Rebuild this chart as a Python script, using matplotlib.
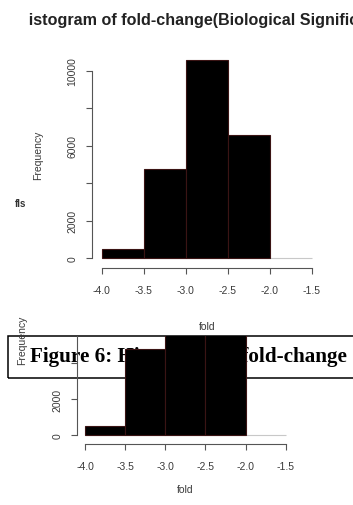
import matplotlib
matplotlib.use("Agg")
import matplotlib.pyplot as plt
from matplotlib.patches import Rectangle

# histogram of fold-change
bin_edges = [-4.0, -3.5, -3.0, -2.5, -2.0]
counts = [480, 4790, 10560, 6560]
x_ticks = [-4.0, -3.5, -3.0, -2.5, -2.0, -1.5]
x_ticklabels = ["-4.0", "-3.5", "-3.0", "-2.5", "-2.0", "-1.5"]
y_ticks = [0, 2000, 4000, 6000, 8000, 10000]
y_ticklabels = ["0", "2000", "", "6000", "", "10000"]

title = "Histogram of fold-change(Biological Significance)"
caption = "Figure 6: Histogram of fold-change (Biological Significance)"

W, H = 353, 506
fig = plt.figure(figsize=(W / 100, H / 100), dpi=100)
plt.rcParams['font.family'] = ['Liberation Sans', 'DejaVu Sans']


def fx(x):
    return x / W


def fy(y):
    return 1 - y / H


def box(l, t, r, b):
    return [fx(l), fy(b), fx(r) - fx(l), fy(t) - fy(b)]


grey = '#555555'
txt = '#3a3a3a'


def hist_axes(ax, xlim, ylim, ytop):
    widths = [bin_edges[i + 1] - bin_edges[i] for i in range(len(counts))]
    ax.hlines(0, x_ticks[0], x_ticks[-1], color='#c8c8c8', lw=0.8, zorder=1)
    ax.bar(bin_edges[:-1], counts, width=widths, align='edge',
           color='black', edgecolor='#3a1414', linewidth=0.8, zorder=2)
    for s in ['top', 'right']:
        ax.spines[s].set_visible(False)
    for s in ['left', 'bottom']:
        ax.spines[s].set_color(grey)
        ax.spines[s].set_linewidth(0.8)
    ax.set_xticks(x_ticks)
    ax.set_xticklabels(x_ticklabels)
    ax.set_yticks(y_ticks)
    ax.set_yticklabels(y_ticklabels)
    # limits after the ticks, otherwise set_yticks widens them
    ax.set_xlim(*xlim)
    ax.set_ylim(*ylim)
    ax.spines['left'].set_bounds(0, ytop)
    ax.spines['bottom'].set_bounds(x_ticks[0], x_ticks[-1])
    ax.tick_params(axis='both', colors=grey, labelcolor=txt, labelsize=7.5,
                   length=4.5, width=0.8)
    ax.tick_params(axis='x', pad=8)
    ax.tick_params(axis='y', pad=6, labelrotation=90)
    for lbl in ax.get_yticklabels():
        lbl.set_va('center')


# upper histogram
ax1 = fig.add_axes(box(92, 55, 320, 269))
hist_axes(ax1, (-4.115, -1.401), (-506, 10889), 10000)

fig.text(fx(17), fy(20), title, fontsize=11.6, fontweight='bold',
         ha='left', va='center', color='#222222')
fig.patches.append(Rectangle((0, fy(34)), fx(27), fy(6) - fy(34),
                             transform=fig.transFigure, color='white', zorder=5))
fig.text(fx(38), fy(155), "Frequency", rotation=90, fontsize=7.5,
         ha='center', va='center', color=txt)
fig.text(fx(21), fy(204), "fls", fontsize=7, fontweight='bold',
         ha='center', va='center', color='#333333')
fig.text(fx(207), fy(327), "fold", fontsize=7.5, ha='center', va='center', color=txt)

# caption box, partly hidden by the lower chart
fig.patches.append(Rectangle((fx(8), fy(379)), fx(400) - fx(8), fy(337) - fy(379),
                             transform=fig.transFigure, fill=False,
                             edgecolor='black', linewidth=1.1, zorder=2))
fig.text(fx(30), fy(357), caption, fontsize=15.2, fontweight='bold',
         family=['Liberation Serif', 'DejaVu Serif'],
         ha='left', va='center', color='black', zorder=3)

# lower histogram (same data, cropped at the caption box)
ax2 = fig.add_axes(box(77.3, 337, 300, 445))
hist_axes(ax2, (-4.096, -1.322), (-500, 5500), 5500)
ax2.patch.set_visible(False)
ax2.set_zorder(10)

fig.text(fx(22), fy(340), "Frequency", rotation=90, fontsize=7.5,
         ha='center', va='center', color=txt)
fig.text(fx(185), fy(490), "fold", fontsize=7.5, ha='center', va='center', color=txt)

fig.savefig("out.png", dpi=100)
